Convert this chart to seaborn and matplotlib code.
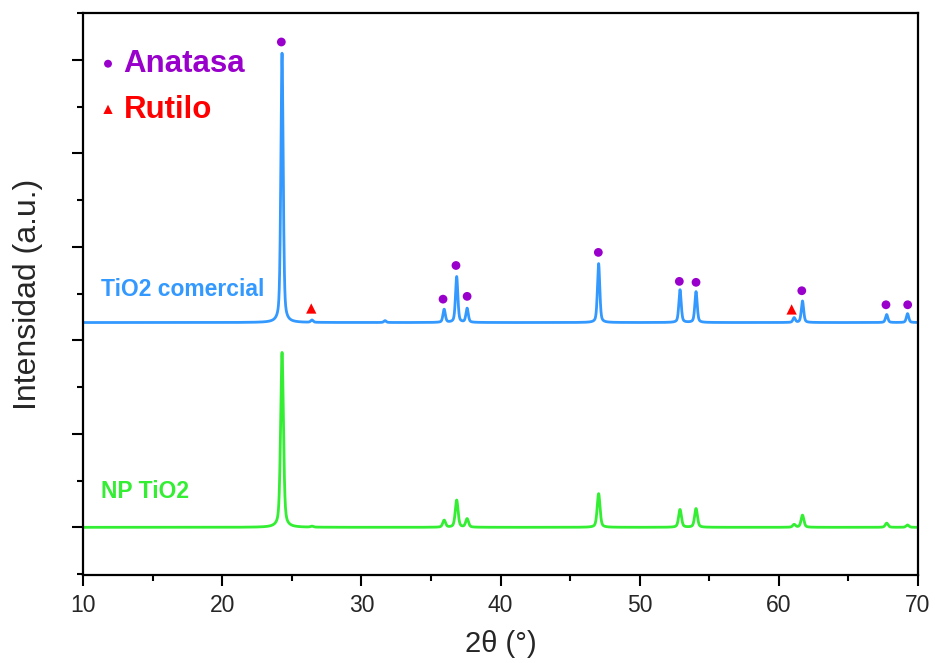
import numpy as np
import pandas as pd
import matplotlib
matplotlib.use("Agg")
import matplotlib.pyplot as plt
import seaborn as sns
from matplotlib.ticker import MultipleLocator, NullFormatter

# ---- data ----
peak_pos = [24.3, 26.45, 31.7, 35.95, 36.85, 37.6, 47.05, 52.9, 54.05, 61.1, 61.7, 67.75, 69.25]
blue_heights = [2.88, 0.025, 0.02, 0.14, 0.49, 0.15, 0.63, 0.35, 0.33, 0.05, 0.23, 0.085, 0.095]
green_heights = [1.87, 0.01, 0.0, 0.075, 0.29, 0.09, 0.36, 0.19, 0.20, 0.03, 0.13, 0.045, 0.025]
blue_fwhm = 0.20
green_fwhm = 0.24
blue_offset = 2.19
green_offset = 0.0

anatase_x = [24.25, 35.87, 36.8, 37.6, 47.03, 52.85, 54.05, 61.65, 67.7, 69.26]
anatase_y = [5.19, 2.44, 2.80, 2.47, 2.94, 2.63, 2.62, 2.53, 2.38, 2.38]
rutile_x = [26.4, 60.92]
rutile_y = [2.34, 2.33]

series_names = ["TiO2 comercial", "NP TiO2"]
xticks = [10, 20, 30, 40, 50, 60, 70]

blue_c = "#3399FF"
green_c = "#33EE33"
purple_c = "#9900CC"
red_c = "#FF0000"

# ---- build the patterns from the read peak list ----
x = np.linspace(10, 70, 6001)

def pattern(heights, fwhm):
    y = np.zeros_like(x)
    g = fwhm / 2.0
    for p, h in zip(peak_pos, heights):
        lor = g**2 / ((x - p) ** 2 + g**2)
        gau = np.exp(-np.log(2) * ((x - p) / g) ** 2)
        y += h * (0.45 * lor + 0.55 * gau)
    return y

df = pd.concat([
    pd.DataFrame({"x": x, "y": pattern(blue_heights, blue_fwhm) + blue_offset, "s": series_names[0]}),
    pd.DataFrame({"x": x, "y": pattern(green_heights, green_fwhm) + green_offset, "s": series_names[1]}),
])

sns.set_style("ticks")
plt.rcParams["font.family"] = ["Liberation Sans", "DejaVu Sans"]

fig = plt.figure(figsize=(9.35, 6.63), dpi=100)
ax = fig.add_axes([0.0888, 0.1327, 0.893, 0.8477])

sns.lineplot(data=df, x="x", y="y", hue="s", palette=[blue_c, green_c],
             linewidth=2.0, legend=False, ax=ax, estimator=None, sort=False)

sns.scatterplot(x=anatase_x, y=anatase_y, color=purple_c, marker="o", s=40,
                edgecolor="none", ax=ax, label="Anatasa", zorder=5)
sns.scatterplot(x=rutile_x, y=rutile_y, color=red_c, marker="^", s=55,
                edgecolor="none", ax=ax, label="Rutilo", zorder=5)

leg = ax.legend(loc="upper left", bbox_to_anchor=(-0.015, 0.975), frameon=False,
                prop={"family": ["Liberation Sans", "DejaVu Sans"], "weight": "bold", "size": 22.5},
                handletextpad=0.0, labelspacing=0.5, borderaxespad=0.3,
                markerscale=0.9, handlelength=1.0)
for t, c in zip(leg.get_texts(), [purple_c, red_c]):
    t.set_color(c)

ax.text(0.021, 0.508, series_names[0], transform=ax.transAxes, color=blue_c,
        fontsize=16.5, fontweight="bold", va="center", ha="left")
ax.text(0.021, 0.148, series_names[1], transform=ax.transAxes, color=green_c,
        fontsize=16.5, fontweight="bold", va="center", ha="left")

ax.set_xlim(10, 70)
ax.set_ylim(-0.51, 5.5)
ax.set_xticks(xticks)
ax.xaxis.set_minor_locator(MultipleLocator(5))
ax.yaxis.set_major_locator(MultipleLocator(1))
ax.yaxis.set_minor_locator(MultipleLocator(0.5))
ax.yaxis.set_major_formatter(NullFormatter())

ax.tick_params(axis="both", which="major", direction="out", length=8, width=1.5,
               color="black", labelsize=16.5, pad=6)
ax.tick_params(axis="both", which="minor", direction="out", length=4, width=1.5, color="black")
ax.tick_params(top=False, right=False, which="both")
for sp in ax.spines.values():
    sp.set_linewidth(1.6)
    sp.set_color("black")
    sp.set_visible(True)

ax.set_xlabel("2θ (°)", fontsize=21, labelpad=9)
ax.set_ylabel("Intensidad (a.u.)", fontsize=23, labelpad=15)

fig.savefig("out.png", dpi=100, facecolor="white")
